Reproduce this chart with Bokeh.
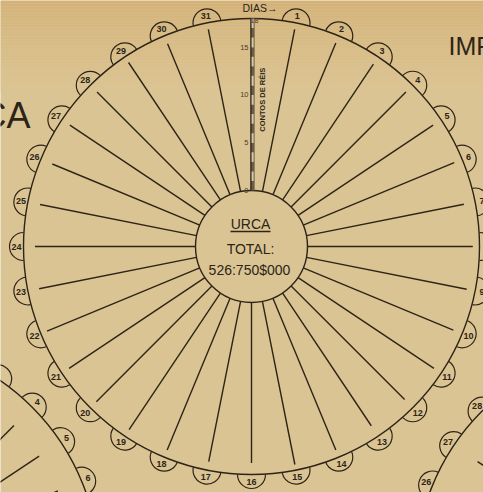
import numpy as np
from bokeh.plotting import figure
from bokeh.models import Range1d
from bokeh.core.properties import value
from bokeh.embed import file_html
from bokeh.resources import INLINE

# ---------------- data ----------------
DIAS = list(range(1, 32))
CONTOS = [17.3, 17.2, 17.1, 17.0, 17.0, 17.1, 16.8, 17.3, 17.1, 17.0,
          17.1, 16.8, 16.7, 17.2, 17.4, 16.8, 17.1, 17.2, 17.2, 17.1,
          17.1, 17.3, 16.8, 16.8, 16.7, 16.7, 17.0, 17.0, 17.3, 17.1, 17.3]
NUM_VISIVEIS = [d for d in range(1, 32) if d != 8]
ESCALA_TICKS = [0, 5, 10, 15, 18]
ESCALA_MAX = 18
TITULO = "URCA"
TOTAL_LABEL = "TOTAL:"
TOTAL = "526:750$000"
EIXO_LABEL = "CONTOS DE RÉIS"
DIAS_LABEL = "DIAS→"
# neighbouring (cropped) charts
DIAS_ESQ = [4, 5, 6]
CONTOS_ESQ = [15.3, 15.3, 15.3]
NUM_ESQ = [4, 5, 6]
DIAS_DIR = [27]
CONTOS_DIR = [15.0]
NUM_DIR = [26, 27, 28]
TEXTO_ESQ = "CA"
TEXTO_DIR = "IMP"

# ---------------- style / geometry ----------------
W_REF, H_REF = 483, 492
PW, PH = 483, 492
BG = "#dbc493"
BG_TOP = (212, 178, 120)
BG_RGB = (219, 196, 147)
INK = "#2d2417"
FONT = "Liberation Sans"
SLOTS = 32
R_OUT = 228
R_IN = 56
PX = (R_OUT - R_IN) / ESCALA_MAX
RB = 14
CX, CY = 251, 246
CENTRO_ESQ = (-129.5, -75.9)
CENTRO_DIR = (642.8, -79.8)


def polar(cx, cy, th, r):
    return cx + r * np.sin(th), cy + r * np.cos(th)


p = figure(width=PW, height=PH, x_range=Range1d(0, W_REF), y_range=Range1d(0, H_REF),
           output_backend="svg", toolbar_location=None, min_border=0,
           x_axis_type=None, y_axis_type=None)
p.grid.visible = False
p.outline_line_color = None
p.background_fill_color = BG
p.border_fill_color = BG

# paper tone: slightly warmer towards the top edge
nb = 30
band = np.arange(nb)
t = (band / (nb - 1)) ** 0.8
cols = ["#%02x%02x%02x" % tuple(int(round(a + (b - a) * tt)) for a, b in zip(BG_TOP, BG_RGB)) for tt in t]
p.quad(left=0, right=W_REF, top=H_REF - band * 3, bottom=H_REF - (band + 1) * 3,
       fill_color=cols, line_color=None)


def carta(cx, cy, dias_linhas, valores, numeros):
    p.circle(x=[cx], y=[cy], radius=R_OUT, fill_alpha=0, line_color=INK, line_width=1.4)
    d = np.array(DIAS, dtype=float)
    th = d * 2 * np.pi / SLOTS
    bx, by = polar(cx, cy, th, R_OUT)
    phi = np.pi / 2 - th
    p.arc(x=bx, y=by, radius=RB, start_angle=phi - np.pi / 2, end_angle=phi + np.pi / 2,
          line_color=INK, line_width=1.2)
    nd = np.array(numeros, dtype=float)
    tn = nd * 2 * np.pi / SLOTS
    tx, ty = polar(cx, cy, tn, R_OUT + 7)
    p.text(x=tx, y=ty, text=[str(k) for k in numeros], text_font=value(FONT),
           text_font_size="9px", text_font_style="bold", text_color=INK,
           text_align="center", text_baseline="middle")
    dl = np.array(dias_linhas, dtype=float)
    v = np.array(valores, dtype=float)
    tl = dl * 2 * np.pi / SLOTS
    x0, y0 = polar(cx, cy, tl, R_IN)
    x1, y1 = polar(cx, cy, tl, R_IN + v * PX)
    p.segment(x0=x0, y0=y0, x1=x1, y1=y1, line_color=INK, line_width=1.4)


carta(*CENTRO_ESQ, DIAS_ESQ, CONTOS_ESQ, NUM_ESQ)
carta(*CENTRO_DIR, DIAS_DIR, CONTOS_DIR, NUM_DIR)
carta(CX, CY, DIAS, CONTOS, NUM_VISIVEIS)
p.circle(x=[CX], y=[CY], radius=R_IN, fill_color=BG, fill_alpha=1, line_color=INK, line_width=1.4)

# scale bar along the top (day 0 position)
unid = np.arange(ESCALA_MAX)
p.quad(left=CX - 0.6, right=CX + 2.6, bottom=CY + R_IN + unid * PX, top=CY + R_IN + (unid + 1) * PX,
       fill_color=["#6e5e47" if k % 2 == 0 else "#d9cba8" for k in unid], line_color=None)
p.segment(x0=[CX - 0.6], y0=[CY + R_IN], x1=[CX - 0.6], y1=[CY + R_OUT], line_color=INK, line_width=1.3)
p.segment(x0=[CX + 2.6], y0=[CY + R_IN], x1=[CX + 2.6], y1=[CY + R_OUT], line_color="#6b5d4a", line_width=1.0)
tk = np.array(ESCALA_TICKS[:-1], dtype=float)
p.text(x=[CX - 3] * len(tk), y=CY + R_IN + tk * PX, text=[str(int(t)) for t in tk],
       text_font=value(FONT), text_font_size="7.5px", text_color="#4a3c2a",
       text_align="right", text_baseline="middle")
p.text(x=[CX + 3], y=[CY + R_IN + ESCALA_TICKS[-1] * PX - 2], text=[str(ESCALA_TICKS[-1])],
       text_font=value(FONT), text_font_size="7px", text_color="#4a3c2a",
       text_align="center", text_baseline="middle")
p.text(x=[CX + 11], y=[CY + R_IN + 9.5 * PX], text=[EIXO_LABEL], angle=np.pi / 2,
       text_font=value(FONT), text_font_size="7.5px", text_font_style="bold", text_color=INK,
       text_align="center", text_baseline="middle")
p.text(x=[CX - 9], y=[CY + R_OUT + 11], text=[DIAS_LABEL], text_font=value(FONT),
       text_font_size="10.5px", text_color=INK, text_align="left", text_baseline="middle")

# centre texts
p.text(x=[CX - 1], y=[CY + 23], text=[TITULO], text_font=value(FONT), text_font_size="14px",
       text_color=INK, text_align="center", text_baseline="middle")
p.segment(x0=[CX - 21], y0=[CY + 15], x1=[CX + 19], y1=[CY + 15], line_color=INK, line_width=1.3)
p.text(x=[CX - 1], y=[CY - 2], text=[TOTAL_LABEL], text_font=value(FONT), text_font_size="14px",
       text_color=INK, text_align="center", text_baseline="middle")
p.text(x=[CX - 2], y=[CY - 23], text=[TOTAL], text_font=value(FONT), text_font_size="14px",
       text_color=INK, text_align="center", text_baseline="middle")

# cropped titles of neighbouring charts
p.text(x=[30], y=[377], text=[TEXTO_ESQ], text_font=value(FONT), text_font_size="36px",
       text_color=INK, text_align="right", text_baseline="middle")
p.text(x=[448], y=[447], text=[TEXTO_DIR], text_font=value(FONT), text_font_size="25px",
       text_color=INK, text_align="left", text_baseline="middle")

open("out.html", "w").write(file_html(p, INLINE))
